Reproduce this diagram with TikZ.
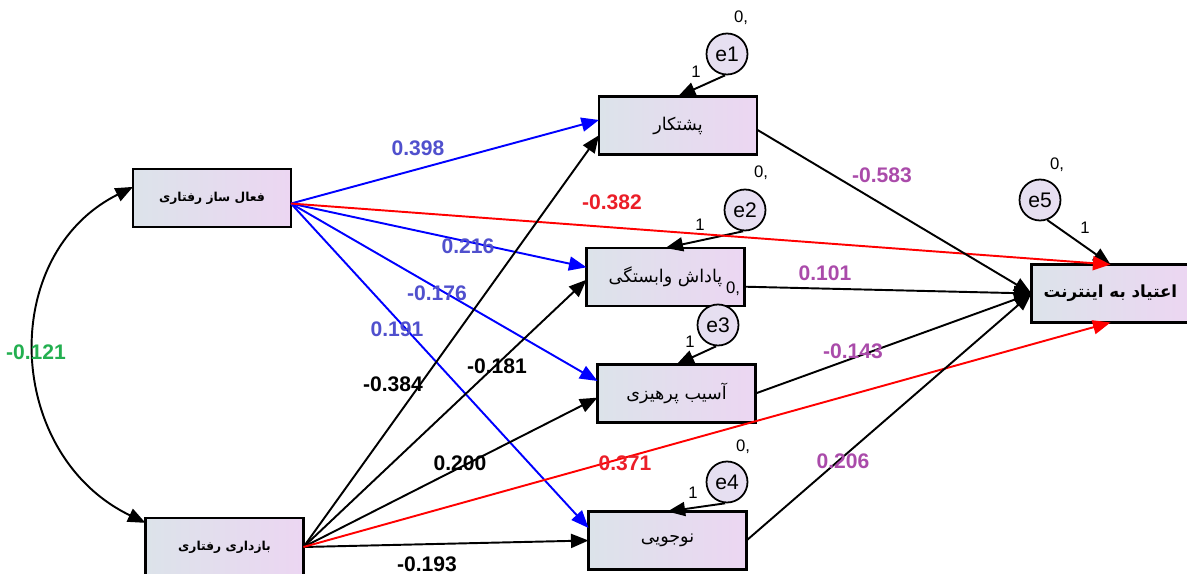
\documentclass[tikz,border=0pt]{standalone}
\usepackage{fontspec}
\setmainfont{Liberation Sans}
\newfontfamily\fa[Script=Arabic]{DejaVu Sans}
\TeXXeTstate=1
\usetikzlibrary{arrows.meta}

\definecolor{boxl}{RGB}{220,227,234}
\definecolor{boxr}{RGB}{236,214,242}
\definecolor{errc}{RGB}{232,222,242}
\definecolor{cblue}{RGB}{80,80,205}
\definecolor{cpurple}{RGB}{170,75,170}
\definecolor{cred}{RGB}{235,30,40}
\definecolor{cgreen}{RGB}{35,175,80}

\begin{document}
\begin{tikzpicture}[x=0.02cm, y=-0.02cm,
  var/.style={draw, line width=1.2pt, left color=boxl, right color=boxr,
    minimum width=3.16cm, minimum height=1.16cm, inner sep=0pt, outer sep=0pt,
    font=\fa\fontsize{10}{12}\selectfont},
  exo/.style={var, font=\fa\bfseries\fontsize{7}{9}\selectfont},
  err/.style={circle, draw, line width=1pt, left color=errc!70!boxl, right color=errc,
    minimum size=0.82cm, inner sep=0pt, font=\fontsize{12}{14}\selectfont},
  arr/.style={line width=1.1pt, -{Triangle[length=10pt,width=8pt]}},
  coef/.style={font=\bfseries\fontsize{12}{14}\selectfont},
  fix/.style={font=\fontsize{9.5}{11}\selectfont},
]
  \useasboundingbox (0, 0) rectangle (1187, 574);

  % observed variables
  \node [exo] (act) at (212, 198) {\beginR فعال ساز رفتاری\endR};
  \node [exo] (inh) at (224.5, 547) {\beginR بازداری رفتاری\endR};
  \node [var] (pers) at (678, 125.5) {\beginR پشتکار\endR};
  \node [var] (rew) at (665.5, 277) {\beginR پاداش وابستگی\endR};
  \node [var] (harm) at (676.5, 393.5) {\beginR آسیب پرهیزی\endR};
  \node [var] (nov) at (667.5, 540.5) {\beginR نوجویی\endR};
  \node [var, font=\fa\bfseries\fontsize{9.5}{12}\selectfont] (addict) at (1110.5, 293.5) {\beginR اعتیاد به اینترنت\endR};

  % errors
  \node [err] (e1) at (727, 54) {e1};
  \node [err] (e2) at (745, 210) {e2};
  \node [err] (e3) at (718, 325) {e3};
  \node [err] (e4) at (727, 482) {e4};
  \node [err] (e5) at (1040, 200) {e5};

  \node [fix] (m1) at (741, 18) {0,};
  \node [fix] (m2) at (761, 173) {0,};
  \node [fix] (m3) at (733, 289) {0,};
  \node [fix] (m4) at (743, 447) {0,};
  \node [fix] (m5) at (1057, 165) {0,};
  \node [fix] (w1) at (696, 72) {1};
  \node [fix] (w2) at (700, 225) {1};
  \node [fix] (w3) at (690, 342) {1};
  \node [fix] (w4) at (693, 493) {1};
  \node [fix] (w5) at (1085, 228) {1};

  \draw [arr] (e1.-95) -- (pers.north);
  \draw [arr] (e2.-95) -- (rew.north);
  \draw [arr] (e3.-95) -- (harm.north);
  \draw [arr] (e4.-95) -- (nov.north);
  \draw [arr] (e5.-70) -- (addict.north);

  % paths
  \draw [arr, blue] (act.-4) -- (pers.176);
  \draw [arr, blue] (act.-4) -- (rew.173);
  \draw [arr, blue] (act.-4) -- (harm.171);
  \draw [arr, blue] (act.-4) -- (nov.171);
  \draw [arr, red] (act.-4) -- (addict.north);

  \draw [arr] (inh.east) -- (pers.187);
  \draw [arr] (inh.east) -- (rew.182);
  \draw [arr] (inh.east) -- (harm.183);
  \draw [arr] (inh.east) -- (nov.180);
  \draw [arr, red] (inh.east) -- (addict.south);

  \draw [arr] (pers.-3) -- (addict.west);
  \draw [arr] (rew.-7) -- (addict.west);
  \draw [arr] (harm.east) -- (addict.west);
  \draw [arr] (nov.east) -- (addict.west);

  \draw [line width=1.1pt, {Triangle[length=10pt,width=8pt]}-{Triangle[length=10pt,width=8pt]}]
    (act.172) .. controls (-3, 255) and (5, 455) .. (inh.163);

  % estimates
  \node [coef, cblue] (c1) at (418, 148) {0.398};
  \node [coef, cblue] (c2) at (468, 246) {0.216};
  \node [coef, cblue] (c3) at (437, 293) {-0.176};
  \node [coef, cblue] (c4) at (397, 329) {0.191};
  \node [coef, cred] (c5) at (612, 202) {-0.382};
  \node [coef] (c6) at (393, 384) {-0.384};
  \node [coef] (c7) at (497, 366) {-0.181};
  \node [coef] (c8) at (460, 463) {0.200};
  \node [coef] (c9) at (427, 564) {-0.193};
  \node [coef, cred] (c10) at (625, 463) {0.371};
  \node [coef, cpurple] (c11) at (882, 175) {-0.583};
  \node [coef, cpurple] (c12) at (825, 273) {0.101};
  \node [coef, cpurple] (c13) at (853, 351) {-0.143};
  \node [coef, cpurple] (c14) at (843, 461) {0.206};
  \node [coef, cgreen] (c15) at (36, 352) {-0.121};
\end{tikzpicture}
\end{document}
